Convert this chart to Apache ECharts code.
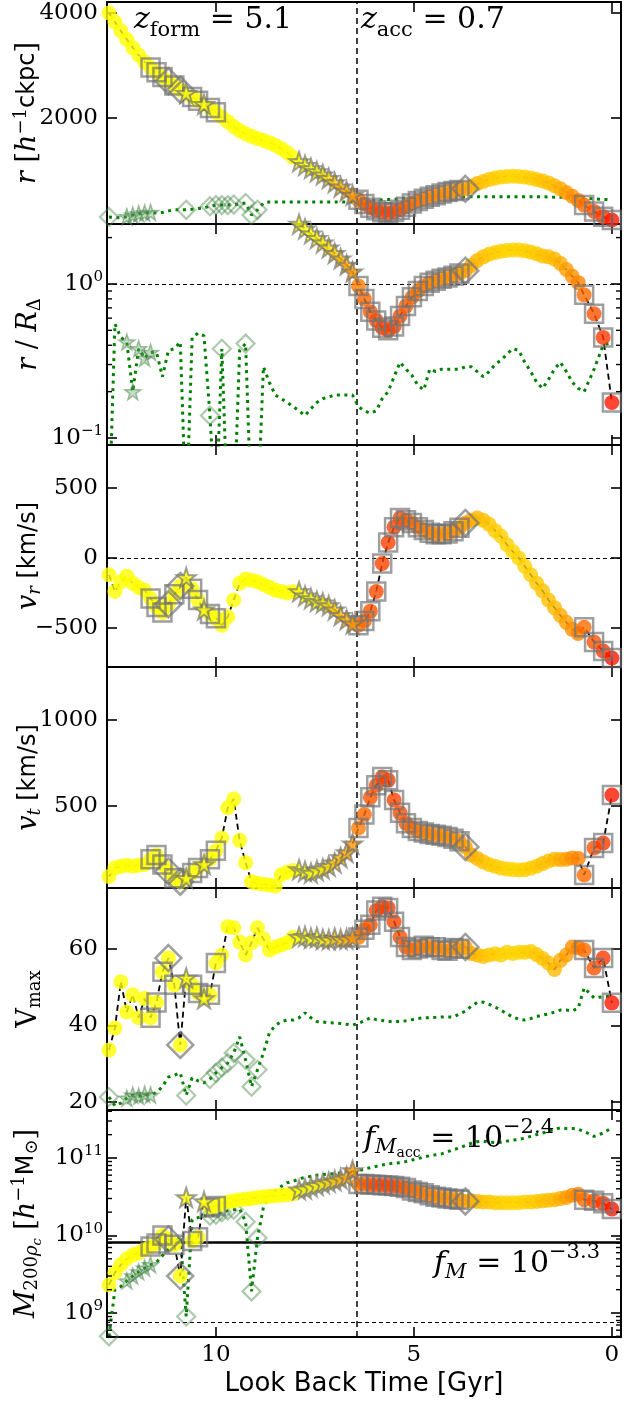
<!DOCTYPE html>
<html>
<head>
<meta charset="utf-8">
<title>Subhalo orbit history</title>
<script src="https://cdn.jsdelivr.net/npm/echarts@6.0.0/dist/echarts.min.js"></script>
<style>
  html, body { margin: 0; padding: 0; background: #fff; }
  #chart { width: 624px; height: 1406px; }
</style>
</head>
<body>
<div id="chart"></div>
<script>
// look back time of each snapshot [Gyr]
const T = [12.70,12.55,12.40,12.25,12.10,11.95,11.80,11.65,11.50,11.35,
           11.20,11.05,10.90,10.75,10.60,10.45,10.30,10.15,10.00,9.85,
           9.70,9.55,9.40,9.25,9.10,8.95,8.80,8.65,8.50,8.35,
           8.20,8.05,7.90,7.75,7.60,7.45,7.30,7.15,7.00,6.85,
           6.70,6.55,6.40,6.25,6.10,5.95,5.80,5.65,5.50,5.35,
           5.20,5.05,4.90,4.75,4.60,4.45,4.30,4.15,4.00,3.85,
           3.70,3.55,3.40,3.25,3.10,2.95,2.80,2.65,2.50,2.35,
           2.20,2.05,1.90,1.75,1.60,1.45,1.30,1.15,1.00,0.85,
           0.70,0.45,0.22,0.00];

// marker flag of each snapshot: o circle, s square, d diamond, * star
const MK = 'ooooooo' + 'sssdsd*ss*ss' + 'ooooooooooooo' + '**********' +
           'ssssssssssssssssss' + 'd' + 'ooooooooooooooooooo' + 'ssss';

// main object
const R = [4000,3830,3660,3500,3340,3200,3070,2960,2870,2780,
           2700,2620,2540,2470,2400,2330,2260,2190,2110,2020,
           1930,1840,1760,1700,1650,1610,1570,1530,1480,1420,
           1340,1250,1170,1100,1040,980,920,850,770,690,
           610,530,440,360,290,240,205,195,210,250,
           310,370,420,460,500,530,560,590,610,630,
           650,700,750,790,830,855,875,885,890,885,
           875,855,830,800,760,710,650,580,510,430,
           340,220,120,55];
const RR = [8.5,8.1,7.8,7.4,7.1,6.8,6.5,6.3,6.1,5.9,
            5.7,5.6,5.4,5.3,5.1,5.0,4.8,4.7,4.5,4.3,
            4.1,3.9,3.7,3.6,3.5,3.4,3.3,3.2,3.1,3.0,
            2.8,2.6,2.45,2.28,2.12,1.98,1.85,1.72,1.58,1.46,
            1.33,1.20,0.97,0.80,0.66,0.58,0.52,0.50,0.53,0.62,
            0.72,0.82,0.90,0.97,1.02,1.05,1.08,1.10,1.13,1.17,
            1.22,1.32,1.42,1.50,1.56,1.60,1.63,1.65,1.66,1.66,
            1.64,1.61,1.57,1.52,1.50,1.45,1.36,1.24,1.12,1.02,
            0.85,0.64,0.45,0.17];
const VR = [-120,-240,-170,-130,-180,-210,-230,-290,-350,-390,
            -330,-260,-200,-140,-220,-300,-370,-400,-430,-480,
            -420,-300,-180,-150,-160,-170,-190,-210,-230,-240,
            -250,-240,-240,-270,-290,-310,-320,-340,-370,-410,
            -440,-470,-480,-450,-380,-240,-40,110,220,285,
            270,250,220,200,180,170,170,175,190,215,
            250,270,285,270,240,195,155,95,45,0,
            -60,-120,-180,-235,-300,-355,-410,-460,-510,-540,
            -495,-600,-665,-715];
const VT = [90,140,150,155,150,155,160,190,215,160,
            120,80,60,80,110,140,160,190,240,314,
            490,540,300,170,60,50,45,40,35,100,
            115,125,130,120,110,125,135,150,170,200,
            230,280,372,450,550,620,668,650,535,460,
            400,372,355,345,337,332,327,320,310,295,
            262,215,195,175,160,150,140,133,130,128,
            130,138,150,165,180,190,188,190,198,195,
            99,256,285,564];
const VMAX = [33.6,39.3,51.4,43.5,48.0,42.0,47.0,42.0,46.0,54.0,
              57.6,50.6,34.9,52.4,50.6,48.5,47.0,48.0,56.3,58.4,
              65.8,65.5,61.8,58.4,61.6,65.5,62.6,59.7,60.5,61.0,
              61.6,63.0,63.1,63.3,62.8,63.0,62.5,62.4,62.8,62.5,
              62.6,62.9,63.0,65.0,66.3,70.0,71.0,70.7,67.1,63.1,
              60.5,59.7,60.1,60.8,60.4,60.4,59.7,59.5,60.2,60.0,
              60.5,58.8,58.4,58.0,58.4,58.7,58.4,59.1,58.8,59.1,
              59.1,59.3,58.5,57.5,56.3,54.6,57.0,58.4,60.5,60.3,
              59.7,55.0,57.6,45.9];
const M200 = [2.3e9,3.3e9,4.2e9,5.0e9,5.6e9,6.0e9,6.6e9,7.2e9,7.9e9,1.0e10,
              8.9e9,7.6e9,3.0e9,3.1e10,8.5e9,9.5e9,2.75e10,2.3e10,2.4e10,2.55e10,
              2.7e10,2.8e10,2.9e10,2.95e10,3.0e10,3.1e10,3.15e10,3.2e10,3.25e10,3.3e10,
              3.35e10,3.45e10,3.9e10,4.0e10,4.25e10,4.45e10,4.7e10,4.9e10,5.1e10,5.4e10,
              5.7e10,6.9e10,4.6e10,4.6e10,4.55e10,4.5e10,4.45e10,4.4e10,4.35e10,4.25e10,
              4.1e10,3.8e10,3.65e10,3.5e10,3.3e10,3.15e10,3.1e10,3.0e10,2.95e10,2.9e10,
              2.75e10,2.8e10,2.75e10,2.7e10,2.7e10,2.65e10,2.65e10,2.65e10,2.65e10,2.65e10,
              2.7e10,2.7e10,2.75e10,2.8e10,2.85e10,2.9e10,3.0e10,3.1e10,3.3e10,3.4e10,
              2.9e10,2.8e10,2.6e10,2.2e10];

// second (green) object, same snapshots
const GMK = 'd' + 'oo' + '*****' + 'ooooo' + 'd' + 'ooo' + 'ddddd' + 'o' + 'ddd' +
            'oooooooooooooooooooooooooooooooooooooooooooooooooooooooooo';
const GR = [115,105,95,120,150,175,190,200,190,200,
            230,250,250,250,260,275,285,320,340,340,
            340,350,365,380,150,250,380,400,400,400,
            400,400,400,400,400,400,400,400,400,400,
            400,400,400,410,420,430,440,445,450,460,
            470,480,490,495,500,500,500,500,500,500,
            500,500,500,500,500,500,500,500,500,500,
            500,500,500,500,495,490,490,485,480,480,
            475,460,450,440];
const GRR = [0.03,0.55,0.45,0.42,0.2,0.38,0.33,0.36,0.36,0.25,
             0.37,0.38,0.42,0.03,0.45,0.48,0.46,0.14,0.03,0.38,
             0.03,0.03,0.37,0.41,0.03,0.03,0.29,0.23,0.19,0.18,
             0.17,0.16,0.15,0.14,0.155,0.17,0.18,0.185,0.19,0.19,
             0.19,0.19,0.16,0.15,0.145,0.15,0.18,0.2,0.25,0.31,
             0.28,0.255,0.22,0.205,0.28,0.27,0.28,0.28,0.28,0.28,
             0.29,0.29,0.27,0.25,0.27,0.3,0.32,0.35,0.38,0.37,
             0.31,0.27,0.23,0.21,0.24,0.28,0.31,0.27,0.23,0.21,
             0.2,0.28,0.4,0.42];
const GV = [21.3,19.0,19.7,21.0,21.8,21.5,22.0,21.8,22.5,24.0,
            26.5,27.0,27.6,21.7,26.3,25.5,25.0,26.0,27.6,29.0,
            30.2,32.8,37.0,31.0,24.0,28.4,32.8,38.0,40.0,41.0,
            41.4,41.4,42.0,43.3,42.0,41.0,40.9,40.7,40.6,40.5,
            40.3,40.1,40.5,41.2,42.0,41.5,41.3,41.0,41.0,41.0,
            41.2,41.5,41.8,42.0,42.0,42.1,42.2,42.2,42.2,43.0,
            43.7,45.0,46.0,46.1,45.5,44.8,44.0,43.0,42.2,41.6,
            41.4,41.8,42.3,42.7,43.0,43.5,44.0,44.0,43.8,44.5,
            49.8,47.2,47.5,47.7];
const GM = [5e8,2.0e9,2.2e9,2.6e9,3.0e9,3.4e9,3.8e9,4.2e9,4.5e9,5.5e9,
            6.6e9,8.0e9,9.8e9,9.0e8,1.6e10,1.7e10,1.8e10,1.8e10,1.85e10,2.0e10,
            2.1e10,2.15e10,2.2e10,1.5e10,1.9e9,9.3e9,2.3e10,3.2e10,3.7e10,4.3e10,
            4.8e10,5.0e10,5.4e10,5.6e10,5.8e10,6.0e10,6.1e10,6.2e10,6.3e10,6.4e10,
            6.6e10,6.7e10,6.8e10,7.2e10,7.5e10,7.8e10,8.1e10,8.4e10,8.6e10,8.7e10,
            9.0e10,9.4e10,9.8e10,1.03e11,1.07e11,1.1e11,1.13e11,1.2e11,1.28e11,1.35e11,
            1.45e11,1.55e11,1.62e11,1.65e11,1.6e11,1.58e11,1.6e11,1.65e11,1.7e11,1.74e11,
            1.8e11,1.9e11,2.0e11,2.1e11,2.2e11,2.35e11,2.45e11,2.4e11,2.4e11,2.35e11,
            2.2e11,1.9e11,2.1e11,2.45e11];

const T_ACC = 6.44;        // accretion time
const M_THRESH = 8.3e9;    // mass threshold line
const M_FLOOR = 7.5e8;     // resolution floor

// tick labels
const X_TICKS = [0, 5, 10];
const R_TICKS = [2000, 4000];
const VR_TICKS = [-500, 0, 500];
const VT_TICKS = [500, 1000];
const V_TICKS = [20, 40, 60];

const X_MIN = -0.23, X_MAX = 12.75;
const SERIF = 'DejaVu Serif', SANS = 'DejaVu Sans';
const STAR = 'path://M50,2 L61.8,37.6 L99,37.6 L68.9,59.6 L80.3,95.2 L50,73.2 L19.7,95.2 L31.1,59.6 L1,37.6 L38.2,37.6 Z';
const GREY = 'rgba(115,115,115,0.85)';

function tok(size, italic, family, pad) {
  return { fontFamily: family || SERIF, fontStyle: italic ? 'italic' : 'normal', fontWeight: 'normal',
           fontSize: size, color: '#000', padding: pad || 0 };
}
const NAME_RICH = {
  i: tok(27, true), n: tok(27, false), s: tok(24, false, SANS),
  sub: tok(18, false, SERIF, [12, 0, 0, 0]), subi: tok(18, true, SERIF, [12, 0, 0, 0]),
  sub2: tok(13, true, SERIF, [22, 0, 0, 0]), sup: tok(18, false, SERIF, [0, 0, 14, 0])
};
const ANN_RICH = {
  i: tok(30, true), n: tok(30, false),
  sub: tok(21, false, SERIF, [20, 0, 0, 0]), subi: tok(21, true, SERIF, [18, 0, 0, 0]),
  sub2: tok(14, false, SERIF, [28, 0, 0, 0]), sup: tok(21, false, SERIF, [0, 0, 23, 0])
};

const panels = [
  { vals: R, green: GR, type: 'value', min: -20, max: 4210, ticks: R_TICKS, top: 2, height: 222,
    name: '{i|r}{n| [}{i|h}{sup|−1}{s|ckpc}{n|]}' },
  { vals: RR, green: GRR, type: 'log', min: 0.0901, max: 2.45, top: 224, height: 221,
    name: '{i|r}{n| / }{i|R}{sub|Δ}', hlines: [{ y: 1 }] },
  { vals: VR, type: 'value', min: -779, max: 807, ticks: VR_TICKS, top: 445, height: 222,
    name: '{i|v}{subi|r}{s| [km/s]}', hlines: [{ y: 0 }] },
  { vals: VT, type: 'value', min: 23, max: 1308, ticks: VT_TICKS, top: 667, height: 221,
    name: '{i|v}{subi|t}{s| [km/s]}' },
  { vals: VMAX, green: GV, type: 'value', min: 17.9, max: 75.9, ticks: V_TICKS, top: 888, height: 222,
    name: '{n|V}{sub|max}' },
  { vals: M200, green: GM, type: 'log', min: 4.9e8, max: 4.16e11, top: 1110, height: 227,
    name: '{i|M}{sub|200}{subi|ρ}{sub2|c}{n| [}{i|h}{sup|−1}{s|M}{sub|⊙}{n|]}',
    hlines: [{ y: M_THRESH, solid: true }, { y: M_FLOOR }] }
];

function idx(codes, c) {
  const out = [];
  for (let i = 0; i < codes.length; i++) if (codes[i] === c) out.push(i);
  return out;
}

function logMinors(min, max) {
  const out = [];
  for (let e = Math.floor(Math.log10(min)); e <= Math.ceil(Math.log10(max)); e++) {
    for (let m = 2; m <= 9; m++) {
      const v = m * Math.pow(10, e);
      if (v > min && v < max) out.push(v);
    }
  }
  return out;
}

const minus = v => (v < 0 ? '−' + Math.abs(v) : String(v));

function xAxisDef(k, pos, labels) {
  return {
    type: 'value', gridIndex: k, position: pos, inverse: true, min: X_MIN, max: X_MAX,
    axisLine: { show: true, onZero: false, lineStyle: { color: '#000', width: 2 } },
    axisTick: { show: true, inside: true, length: 10, customValues: X_TICKS,
                lineStyle: { color: '#000', width: 1.6 } },
    axisLabel: { show: labels, customValues: X_TICKS, margin: 7, color: '#000',
                 fontFamily: SERIF, fontSize: 23 },
    splitLine: { show: false },
    name: labels ? 'Look Back Time [Gyr]' : '',
    nameLocation: 'middle', nameGap: 34,
    nameTextStyle: { fontFamily: SANS, fontSize: 26, color: '#000' }
  };
}

function yAxisDef(p, k, pos, labels) {
  const a = {
    type: p.type, gridIndex: k, position: pos, min: p.min, max: p.max,
    axisLine: { show: true, onZero: false, lineStyle: { color: '#000', width: 2 } },
    axisTick: { show: true, inside: true, length: 10, lineStyle: { color: '#000', width: 1.6 } },
    axisLabel: { show: labels, color: '#000', fontFamily: SERIF, fontSize: 23, margin: 9 },
    splitLine: { show: false }
  };
  if (p.type === 'log') {
    a.logBase = 10;
    a.axisLabel.margin = 4;
    a.axisLabel.showMinLabel = false;
    a.axisLabel.showMaxLabel = false;
    a.axisLabel.formatter = v => {
      const e = Math.log10(v);
      if (Math.abs(e - Math.round(e)) > 1e-6) return '';
      return '{b|10}{e|' + minus(Math.round(e)) + '}';
    };
    a.axisLabel.rich = { b: tok(23, false), e: tok(15, false, SERIF, [0, 0, 13, 0]) };
  } else {
    a.axisTick.customValues = p.ticks;
    a.axisLabel.customValues = p.ticks;
    a.axisLabel.formatter = v => minus(v);
  }
  if (labels) {
    a.name = p.name;
    a.nameLocation = 'middle';
    a.nameRotate = 90;
    a.nameGap = 63;
    a.nameMoveOverlap = false;
    a.nameTextStyle = { rich: NAME_RICH, color: '#000', fontWeight: 'normal' };
  }
  return a;
}

const grids = [], xAxes = [], yAxes = [], series = [], colored = [];

panels.forEach((p, k) => {
  grids.push({ left: 107, width: 514, top: p.top, height: p.height, outerBoundsMode: 'none' });
  const xi = xAxes.length;
  xAxes.push(xAxisDef(k, 'bottom', k === panels.length - 1));
  xAxes.push(xAxisDef(k, 'top', false));
  const yi = yAxes.length;
  yAxes.push(yAxisDef(p, k, 'left', true));
  yAxes.push(yAxisDef(p, k, 'right', false));
  const ax = { xAxisIndex: xi, yAxisIndex: yi };

  // green companion: dotted track + faded markers
  if (p.green) {
    series.push(Object.assign({
      type: 'line', data: T.map((t, i) => [t, p.green[i]]), symbol: 'none',
      lineStyle: { color: '#008000', width: 3, type: [3, 4.5] }, z: 2, silent: true, clip: true
    }, ax));
    series.push(Object.assign({
      type: 'scatter', data: idx(GMK, '*').map(i => [T[i], p.green[i]]),
      symbol: STAR, symbolSize: 16, z: 3, silent: true,
      itemStyle: { color: 'rgba(95,160,95,0.45)', borderColor: 'rgba(70,125,70,0.6)', borderWidth: 1.5 }
    }, ax));
    series.push(Object.assign({
      type: 'scatter', data: idx(GMK, 'd').map(i => [T[i], p.green[i]]),
      symbol: 'diamond', symbolSize: 18, z: 3, silent: true,
      itemStyle: { color: 'rgba(0,0,0,0)', borderColor: 'rgba(70,135,70,0.55)', borderWidth: 2.2 }
    }, ax));
  }

  // dashed connector through all main points
  series.push(Object.assign({
    type: 'line', data: T.map((t, i) => [t, p.vals[i]]), symbol: 'none',
    lineStyle: { color: '#000', width: 1.8, type: [6, 4] }, z: 4, silent: true, clip: true
  }, ax));

  // main circles, coloured by r/R
  const marks = [{ xAxis: T_ACC, lineStyle: { color: '#000', width: 1.5, type: [6, 4] } }];
  (p.hlines || []).forEach(h => marks.push({
    yAxis: h.y,
    lineStyle: h.solid ? { color: '#000', width: 2.5, type: 'solid' } : { color: '#000', width: 1.2, type: [4, 3] }
  }));
  colored.push(series.length);
  series.push(Object.assign({
    type: 'scatter', symbol: 'circle', symbolSize: 15, z: 5, silent: true,
    data: T.map((t, i) => [t, p.vals[i], Math.min(RR[i], 2)]).filter((d, i) => MK[i] !== '*'),
    markLine: { silent: true, symbol: ['none', 'none'], label: { show: false }, data: marks, z: 1 }
  }, ax));

  series.push(Object.assign({
    type: 'scatter', data: idx(MK, 's').map(i => [T[i], p.vals[i]]),
    symbol: 'rect', symbolSize: 18, z: 6, silent: true,
    itemStyle: { color: 'rgba(0,0,0,0)', borderColor: GREY, borderWidth: 2.5 }
  }, ax));
  series.push(Object.assign({
    type: 'scatter', data: idx(MK, 'd').map(i => [T[i], p.vals[i]]),
    symbol: 'diamond', symbolSize: 26, z: 6, silent: true,
    itemStyle: { color: 'rgba(0,0,0,0)', borderColor: GREY, borderWidth: 2.5 }
  }, ax));
  colored.push(series.length);
  series.push(Object.assign({
    type: 'scatter', data: idx(MK, '*').map(i => [T[i], p.vals[i], Math.min(RR[i], 2)]),
    symbol: STAR, symbolSize: 19, z: 7, silent: true,
    itemStyle: { borderColor: GREY, borderWidth: 2 }
  }, ax));

  // minor ticks on log panels
  if (p.type === 'log') {
    series.push(Object.assign({
      type: 'custom', silent: true, z: 10, clip: false,
      data: logMinors(p.min, p.max).map(v => [X_MIN, v]),
      encode: { x: 0, y: 1 },
      renderItem: (params, api) => {
        const v = api.value(1);
        const pl = api.coord([X_MAX, v]);
        const pr = api.coord([X_MIN, v]);
        const st = { stroke: '#000', lineWidth: 1.4 };
        return { type: 'group', children: [
          { type: 'line', shape: { x1: pl[0], y1: pl[1], x2: pl[0] + 5, y2: pl[1] }, style: st },
          { type: 'line', shape: { x1: pr[0], y1: pr[1], x2: pr[0] - 5, y2: pr[1] }, style: st }
        ] };
      }
    }, ax));
  }
});

const annStyle = { rich: ANN_RICH, fontWeight: 'normal', color: '#000' };
const chart = echarts.init(document.getElementById('chart'));
chart.setOption({
  animation: false,
  backgroundColor: '#fff',
  title: [
    { left: 134, top: 0, padding: 0, text: '{i|z}{sub|form}{n| = 5.1}', textStyle: annStyle },
    { left: 361, top: 0, padding: 0, text: '{i|z}{sub|acc}{n| = 0.7}', textStyle: annStyle },
    { left: 364, top: 1117, padding: 0, text: '{i|f}{subi|M}{sub2|acc}{n| = 10}{sup|−2.4}', textStyle: annStyle },
    { right: 24, top: 1242, padding: 0, text: '{i|f}{subi|M}{n| = 10}{sup|−3.3}', textStyle: annStyle }
  ],
  visualMap: {
    type: 'continuous', show: false, dimension: 2, min: 0, max: 2,
    seriesIndex: colored, inRange: { color: ['#ff0000', '#ffff00'] }
  },
  grid: grids,
  xAxis: xAxes,
  yAxis: yAxes,
  series: series
});
</script>
</body>
</html>
